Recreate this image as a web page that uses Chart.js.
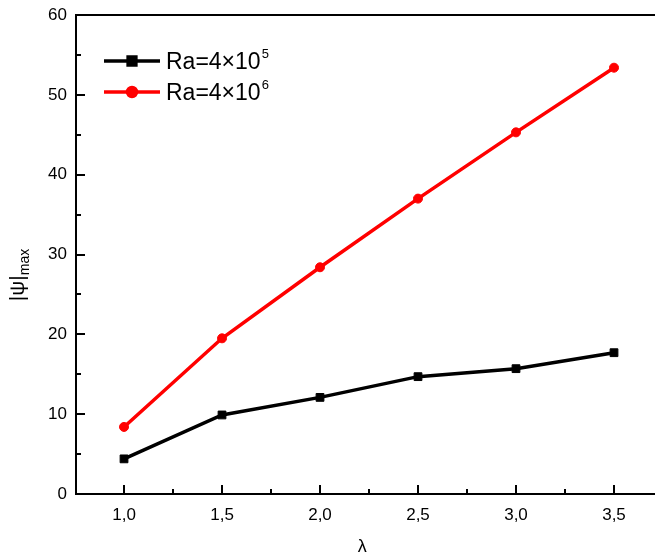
<!DOCTYPE html>
<html>
<head>
<meta charset="utf-8">
<script src="https://cdn.jsdelivr.net/npm/chart.js@4"></script>
<style>
  html, body { margin: 0; padding: 0; background: #fff; }
  #wrap { width: 655px; height: 560px; }
</style>
</head>
<body>
<div id="wrap"><canvas id="psiChart"></canvas></div>
<script>
// data
const lambdaValues = [1.0, 1.5, 2.0, 2.5, 3.0, 3.5];
const psiRa4e5 = [4.4, 9.9, 12.1, 14.7, 15.7, 17.7];
const psiRa4e6 = [8.4, 19.5, 28.4, 37.0, 45.3, 53.4];
const xTickValues = [1.0, 1.5, 2.0, 2.5, 3.0, 3.5];
const yTickValues = [0, 10, 20, 30, 40, 50, 60];
const seriesLabels = ["Ra=4×10^5", "Ra=4×10^6"];

const FONT = "'Liberation Sans', Arial, sans-serif";

// Origin style frame: top line + inward major/minor ticks
const frameTicks = {
  id: "frameTicks",
  afterDatasetsDraw(chart) {
    const { ctx, chartArea: a, scales: { x, y } } = chart;
    ctx.save();
    ctx.strokeStyle = "#000";
    ctx.lineWidth = 2;
    ctx.beginPath();
    ctx.moveTo(a.left, a.top);
    ctx.lineTo(chart.width, a.top);
    ctx.moveTo(a.right, a.bottom);
    ctx.lineTo(chart.width, a.bottom);
    const xt = x.ticks.map(t => t.value);
    xt.forEach((v, i) => {
      const px = Math.round(x.getPixelForValue(v));
      ctx.moveTo(px, a.bottom);
      ctx.lineTo(px, a.bottom - 9);
      if (i < xt.length - 1) {
        const m = Math.round(x.getPixelForValue((v + xt[i + 1]) / 2));
        ctx.moveTo(m, a.bottom);
        ctx.lineTo(m, a.bottom - 5);
      }
    });
    const yt = y.ticks.map(t => t.value);
    yt.forEach((v, i) => {
      const py = Math.round(y.getPixelForValue(v));
      ctx.moveTo(a.left, py);
      ctx.lineTo(a.left + 9, py);
      if (i < yt.length - 1) {
        const m = Math.round(y.getPixelForValue((v + yt[i + 1]) / 2));
        ctx.moveTo(a.left, m);
        ctx.lineTo(a.left + 5, m);
      }
    });
    ctx.stroke();
    ctx.restore();
  },
  afterDraw(chart) {
    const { ctx } = chart;
    ctx.save();
    ctx.fillStyle = "#000";

    // y axis title with subscript
    ctx.translate(24, 275);
    ctx.rotate(-Math.PI / 2);
    ctx.textBaseline = "alphabetic";
    ctx.font = "21px " + FONT;
    const main = "|\u03C8|";
    const sub = "max";
    const mw = ctx.measureText(main).width;
    ctx.font = "14px " + FONT;
    const sw = ctx.measureText(sub).width;
    const start = -(mw + sw) / 2;
    ctx.font = "21px " + FONT;
    ctx.fillText(main, start, 0);
    ctx.font = "14px " + FONT;
    ctx.fillText(sub, start + mw, 5);
    ctx.setTransform(1, 0, 0, 1, 0, 0);

    // legend with superscript exponents
    chart.data.datasets.forEach((ds, i) => {
      const yy = 61 + i * 31;
      ctx.strokeStyle = ds.borderColor;
      ctx.lineWidth = ds.borderWidth;
      ctx.beginPath();
      ctx.moveTo(104, yy);
      ctx.lineTo(160, yy);
      ctx.stroke();
      Chart.helpers.drawPoint(ctx, {
        pointStyle: ds.pointStyle,
        radius: ds.pointRadius,
        borderWidth: 1
      }, 132, yy);
      ctx.fillStyle = ds.pointBackgroundColor;
      ctx.fill();
      const [base, exp] = ds.label.split("^");
      ctx.fillStyle = "#000";
      ctx.font = "23px " + FONT;
      ctx.textBaseline = "alphabetic";
      ctx.fillText(base, 166, yy + 8);
      const bw = ctx.measureText(base).width;
      ctx.font = "13px " + FONT;
      ctx.fillText(exp, 166 + bw + 1, yy - 3);
    });
    ctx.restore();
  }
};

new Chart(document.getElementById("psiChart").getContext("2d"), {
  type: "line",
  data: {
    datasets: [
      {
        label: seriesLabels[0],
        data: lambdaValues.map((l, i) => ({ x: l, y: psiRa4e5[i] })),
        borderColor: "#000000",
        backgroundColor: "#000000",
        pointBackgroundColor: "#000000",
        pointBorderColor: "#000000",
        borderWidth: 3.5,
        pointStyle: "rect",
        pointRadius: 5.5,
        pointBorderWidth: 1,
        tension: 0
      },
      {
        label: seriesLabels[1],
        data: lambdaValues.map((l, i) => ({ x: l, y: psiRa4e6[i] })),
        borderColor: "#ff0000",
        backgroundColor: "#ff0000",
        pointBackgroundColor: "#ff0000",
        pointBorderColor: "#ff0000",
        borderWidth: 3.5,
        pointStyle: "circle",
        pointRadius: 4.5,
        pointBorderWidth: 1,
        tension: 0
      }
    ]
  },
  options: {
    responsive: true,
    maintainAspectRatio: false,
    animation: false,
    layout: { padding: { top: 15, right: 0, left: 0, bottom: 0 } },
    plugins: {
      legend: { display: false },
      tooltip: { enabled: false }
    },
    scales: {
      x: {
        type: "linear",
        min: 0.755,
        max: 3.676,
        afterBuildTicks: (scale) => { scale.ticks = xTickValues.map(v => ({ value: v })); },
        afterFit: (scale) => {
          scale.height = 66;
          scale.paddingLeft = 0;
          scale.paddingRight = 0;
        },
        grid: { display: true, drawOnChartArea: false, drawTicks: false },
        border: { display: true, color: "#000", width: 2 },
        ticks: {
          color: "#000",
          padding: 11,
          font: { size: 17, family: FONT },
          maxRotation: 0,
          callback: (v) => Number(v).toFixed(1).replace(".", ",")
        },
        title: {
          display: true,
          text: "\u03BB",
          color: "#000",
          font: { size: 18, family: FONT },
          padding: { top: 0, bottom: 2 }
        }
      },
      y: {
        type: "linear",
        min: 0,
        max: 60,
        afterBuildTicks: (scale) => { scale.ticks = yTickValues.map(v => ({ value: v })); },
        afterFit: (scale) => {
          scale.width = 76;
          scale.paddingTop = 0;
          scale.paddingBottom = 0;
        },
        grid: { display: true, drawOnChartArea: false, drawTicks: false },
        border: { display: true, color: "#000", width: 2 },
        ticks: {
          color: "#000",
          padding: 9,
          font: { size: 17, family: FONT }
        }
      }
    }
  },
  plugins: [frameTicks]
});
</script>
</body>
</html>
